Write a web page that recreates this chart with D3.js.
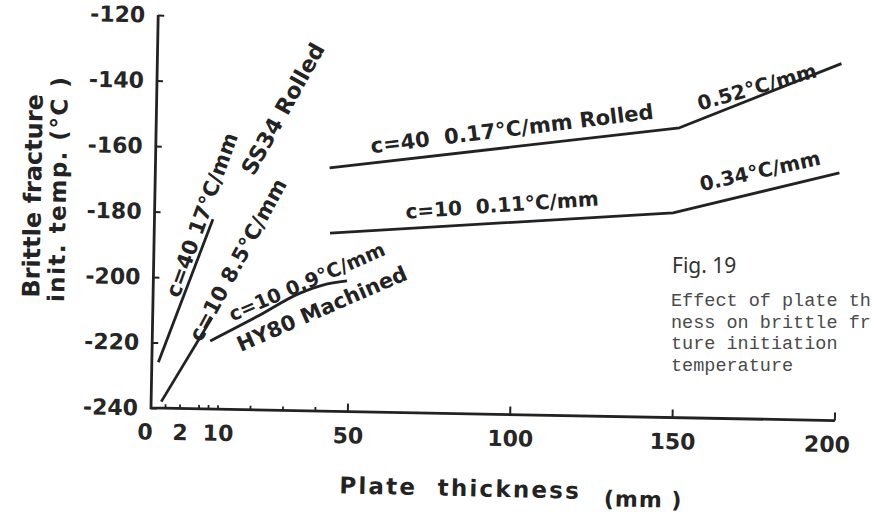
<!DOCTYPE html>
<html>
<head>
<meta charset="utf-8">
<script src="https://cdn.jsdelivr.net/npm/d3@7"></script>
<style>
  html, body { margin: 0; padding: 0; background: #fff; }
  svg { display: block; }
  .lbl { font-family: "DejaVu Sans", sans-serif; font-weight: bold; fill: #232323; white-space: pre; }
  .tick text { font-family: "DejaVu Sans", sans-serif; font-weight: bold; fill: #262626; }
  .typed { font-family: "Liberation Mono", monospace; fill: #4a4a4a; }
</style>
</head>
<body>
<div id="chart"></div>
<script>
/* Fig. 19 — plate thickness vs brittle fracture initiation temperature */

const W = 872, H = 512;

// axis ticks
const thickLabels = [0, 2, 10, 50, 100, 150, 200];
const majorTicks  = [50, 100, 150, 200];
const minorTicks  = [1, 2, 6, 8, 10, 20, 30, 40];
const tempTicks   = [-240, -220, -200, -180, -160, -140, -120];

// series: [thickness mm, temperature °C]
const ss34C40   = [[0.45, -226], [8.2, -182]];
const ss34C10   = [[0.7, -238], [8.4, -212]];
const hy80C10   = [[8.1, -219.2], [21.5, -211.5], [34.6, -204.1], [41.6, -201.5], [49, -200.1]];
const rolledC40 = [[43, -165.7], [150.5, -151.5], [200, -131]];
const rolledC10 = [[43.5, -185.6], [149, -177.5], [200, -164.4]];

const svg = d3.select('#chart').append('svg')
  .attr('width', W).attr('height', H)
  .attr('viewBox', `0 0 ${W} ${H}`);

// the scan sits about one degree off square
const ox = 151, oy = 408;
const plot = svg.append('g').attr('transform', `rotate(1.05, ${ox}, ${oy})`);

const x = d3.scaleLinear().domain([0, 2, 10, 200]).range([ox, 180, 218, 835]);
const y = d3.scaleLinear().domain([-240, -120]).range([oy, 15]);

const ink = '#222';

// y axis, ticks point inward
const yAxis = plot.append('g')
  .attr('transform', `translate(${ox},0)`)
  .call(d3.axisLeft(y).tickValues(tempTicks).tickSizeInner(-6).tickSizeOuter(0)
    .tickPadding(13).tickFormat(d => '-' + Math.abs(d)));
yAxis.select('.domain').remove();
yAxis.selectAll('.tick line').attr('stroke', ink).attr('stroke-width', 2);
yAxis.selectAll('.tick text').attr('font-size', 22);

// x axis labels
const xAxis = plot.append('g')
  .attr('transform', `translate(0,${oy})`)
  .call(d3.axisBottom(x).tickValues(thickLabels).tickSize(0).tickPadding(16));
xAxis.select('.domain').remove();
xAxis.selectAll('.tick text').attr('font-size', 22)
  .attr('dx', d => d === 0 ? -6 : d === 200 ? -8 : 0);

// axis lines
plot.append('path')
  .attr('d', `M${x(0)},${y(-120)}V${y(-240)}H${x(200)}`)
  .attr('fill', 'none').attr('stroke', ink).attr('stroke-width', 2.8);

plot.append('g').selectAll('line').data(majorTicks).join('line')
  .attr('x1', d => x(d)).attr('x2', d => x(d))
  .attr('y1', oy).attr('y2', oy - 8)
  .attr('stroke', ink).attr('stroke-width', 2);

plot.append('g').selectAll('line').data(minorTicks).join('line')
  .attr('x1', d => x(d)).attr('x2', d => x(d))
  .attr('y1', oy).attr('y2', oy - 4)
  .attr('stroke', ink).attr('stroke-width', 1.8);

// data lines
const straight = d3.line().x(d => x(d[0])).y(d => y(d[1]));
const curved   = d3.line().x(d => x(d[0])).y(d => y(d[1])).curve(d3.curveMonotoneX);

[ss34C40, ss34C10, rolledC40, rolledC10].forEach(s => {
  plot.append('path').datum(s)
    .attr('d', straight)
    .attr('fill', 'none').attr('stroke', ink)
    .attr('stroke-width', 2.8).attr('stroke-linejoin', 'round');
});
plot.append('path').datum(hy80C10)
  .attr('d', curved)
  .attr('fill', 'none').attr('stroke', ink).attr('stroke-width', 2.8);

// lettering on the lines (page coordinates, as scanned)
const notes = [
  { t: 'c=40 17°C/mm',           x: 202, y: 215, a: -70,   s: 21 },
  { t: 'c=10 8.5°C/mm',          x: 238, y: 260, a: -61.5, s: 21 },
  { t: 'SS34 Rolled',            x: 283, y: 109, a: -60.8, s: 22 },
  { t: 'c=10 0.9°C/mm',          x: 307, y: 282, a: -23.5, s: 19.5 },
  { t: 'HY80 Machined',          x: 322, y: 309, a: -23.5, s: 21 },
  { t: 'c=40  0.17°C/mm Rolled', x: 512, y: 129, a: -7,    s: 21 },
  { t: '0.52°C/mm',              x: 757, y: 87,  a: -16,   s: 20 },
  { t: 'c=10  0.11°C/mm',        x: 502, y: 205, a: -4,    s: 20 },
  { t: '0.34°C/mm',              x: 760, y: 171, a: -12.5, s: 20 }
];
svg.append('g').selectAll('text').data(notes).join('text')
  .attr('class', 'lbl')
  .attr('font-size', d => d.s)
  .attr('text-anchor', 'middle')
  .attr('dominant-baseline', 'central')
  .attr('transform', d => `translate(${d.x},${d.y}) rotate(${d.a})`)
  .text(d => d.t);

// axis titles
svg.append('text').attr('class', 'lbl')
  .attr('font-size', 24).attr('font-weight', 900)
  .attr('text-anchor', 'middle')
  .attr('transform', 'translate(41,196) rotate(-89)')
  .text('Brittle fracture');
svg.append('text').attr('class', 'lbl')
  .attr('font-size', 23).attr('font-weight', 'normal')
  .attr('letter-spacing', 1.5)
  .attr('text-anchor', 'middle')
  .attr('transform', 'translate(66,189) rotate(-89)')
  .text('init. temp. (°C )');

svg.append('text').attr('class', 'lbl')
  .attr('font-size', 23).attr('letter-spacing', 2.2)
  .attr('text-anchor', 'middle')
  .attr('transform', 'translate(460,496) rotate(1.3)')
  .text('Plate  thickness');
svg.append('text').attr('class', 'lbl')
  .attr('font-size', 22).attr('letter-spacing', 1)
  .attr('text-anchor', 'middle')
  .attr('transform', 'translate(643,507) rotate(1)')
  .text('(mm )');

// figure caption
svg.append('text')
  .attr('x', 672).attr('y', 273)
  .attr('font-family', '"Noto Sans", sans-serif')
  .attr('font-size', 21).attr('fill', '#333')
  .text('Fig. 19');

const caption = ['Effect of plate th', 'ness on brittle fr', 'ture initiation', 'temperature'];
svg.append('g').selectAll('text').data(caption).join('text')
  .attr('class', 'typed')
  .attr('x', 671)
  .attr('y', (d, i) => 306 + i * 21.6)
  .attr('font-size', 18.5)
  .text(d => d);
</script>
</body>
</html>
